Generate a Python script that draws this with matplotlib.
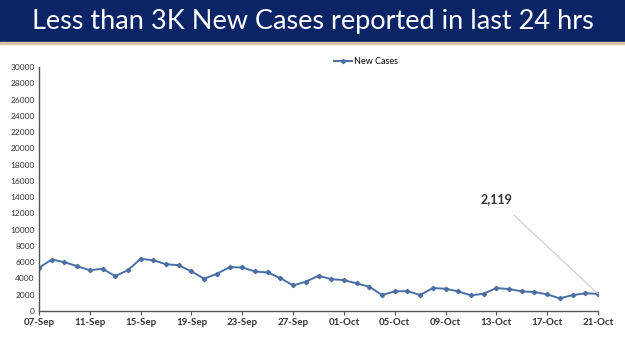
import matplotlib
matplotlib.use("Agg")
import matplotlib.pyplot as plt
import numpy as np

# daily new cases, 07-Sep .. 21-Oct
dates = ["07-Sep", "08-Sep", "09-Sep", "10-Sep", "11-Sep", "12-Sep", "13-Sep", "14-Sep",
         "15-Sep", "16-Sep", "17-Sep", "18-Sep", "19-Sep", "20-Sep", "21-Sep", "22-Sep",
         "23-Sep", "24-Sep", "25-Sep", "26-Sep", "27-Sep", "28-Sep", "29-Sep", "30-Sep",
         "01-Oct", "02-Oct", "03-Oct", "04-Oct", "05-Oct", "06-Oct", "07-Oct", "08-Oct",
         "09-Oct", "10-Oct", "11-Oct", "12-Oct", "13-Oct", "14-Oct", "15-Oct", "16-Oct",
         "17-Oct", "18-Oct", "19-Oct", "20-Oct", "21-Oct"]
new_cases = [5310, 6330, 6000, 5510, 5020, 5190, 4290, 5020, 6410, 6240, 5750, 5630,
             4860, 3970, 4580, 5390, 5350, 4860, 4740, 4040, 3150, 3600, 4330, 3920,
             3800, 3390, 2990, 1960, 2410, 2450, 1960, 2820, 2740, 2410, 1920, 2130,
             2820, 2700, 2410, 2330, 2040, 1550, 1960, 2170, 2119]
yticks = list(range(0, 30001, 2000))

plt.rcParams["font.family"] = ["Lato", "DejaVu Sans"]

fig = plt.figure(figsize=(6.25, 3.51), dpi=100)
fig.patch.set_facecolor("white")

# title banner
fig.patches.append(plt.Rectangle((0, 1 - 42 / 351), 1, 42 / 351, transform=fig.transFigure,
                                 color="#0b2466", zorder=0))
fig.patches.append(plt.Rectangle((0, 1 - 44 / 351), 1, 2 / 351, transform=fig.transFigure,
                                 color="#d9c3a8", zorder=0))
fig.text(0.5, 1 - 21 / 351, "Less than 3K New Cases reported in last 24 hrs", color="white",
         fontsize=19.5, ha="center", va="center")

ax = fig.add_axes([39 / 625, 1 - 311 / 351, (598 - 39) / 625, (311 - 67) / 351])
x = np.arange(len(dates))
ax.plot(x, new_cases, color="#4a6fa5", lw=1.4, marker="D", ms=2.2, label="New Cases")

ax.set_xlim(0, len(dates) - 1)
ax.set_ylim(0, 30000)
ax.set_yticks(yticks)
ax.set_yticklabels([str(v) for v in yticks], fontsize=6, color="#333333")
ax.set_xticks(x[::4])
ax.set_xticklabels(dates[::4], fontsize=7, fontweight="bold", color="#333333")
ax.tick_params(axis="y", length=0, pad=3)
ax.tick_params(axis="x", length=3, color="#555555", pad=2)
for s in ["top", "right"]:
    ax.spines[s].set_visible(False)
for s in ["left", "bottom"]:
    ax.spines[s].set_color("#555555")
    ax.spines[s].set_linewidth(1.0)

ax.legend(loc="upper center", bbox_to_anchor=(0.585, 1.075), frameon=False, fontsize=6.5,
          handlelength=2, handletextpad=0.2)

ax.annotate(f"{new_cases[-1]:,}", xy=(x[-1], new_cases[-1]), xytext=(x[-1] - 8, 13800),
            fontsize=9, fontweight="bold", color="#333333", ha="center", va="center",
            arrowprops=dict(arrowstyle="-", color="#d0d0d0", lw=0.9, shrinkA=8, shrinkB=0))

fig.savefig("out.png", dpi=100)
